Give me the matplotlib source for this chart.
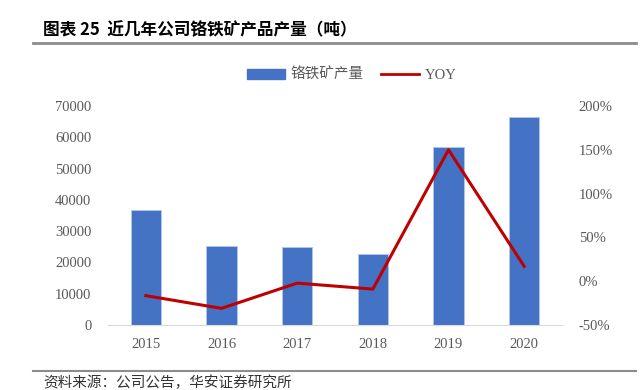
import matplotlib
matplotlib.use("Agg")
import matplotlib.pyplot as plt
from matplotlib.ticker import FuncFormatter
from matplotlib.lines import Line2D

years = ["2015", "2016", "2017", "2018", "2019", "2020"]
output = [36700, 25300, 24800, 22600, 56800, 66500]
yoy = [-16.5, -31.0, -2.2, -9.0, 150.0, 17.0]
left_ticks = [0, 10000, 20000, 30000, 40000, 50000, 60000, 70000]
right_ticks = [-50, 0, 50, 100, 150, 200]

plt.rcParams['font.family'] = ['Noto Sans CJK SC', 'DejaVu Sans']

W, H = 643, 390
fig = plt.figure(figsize=(W / 100, H / 100), dpi=100)

x0, x1 = 108, 562
y0, y1 = 325, 106
ax = fig.add_axes([x0 / W, 1 - y0 / H, (x1 - x0) / W, (y0 - y1) / H])
ax2 = ax.twinx()

xs = list(range(len(years)))
ax.bar(xs, output, width=0.4, color='#4472C4', edgecolor='#b4c7e7', linewidth=0.6, zorder=2)
ax.set_xlim(-0.5, len(years) - 0.5)
ax.set_ylim(0, 70000)
ax.set_yticks(left_ticks)
ax.set_xticks(xs)
ax.set_xticklabels(years)

ax2.plot(xs, yoy, color='#C00000', linewidth=2.2, zorder=3)
ax2.set_ylim(-50, 200)
ax2.set_yticks(right_ticks)
ax2.yaxis.set_major_formatter(FuncFormatter(lambda v, p: f"{int(v)}%"))

serif = ['Liberation Serif', 'DejaVu Serif']
for a in (ax, ax2):
    for s in a.spines.values():
        s.set_visible(False)
    a.tick_params(length=0, colors='#595959', labelsize=10.5)
    for lab in a.get_yticklabels() + a.get_xticklabels():
        lab.set_family(serif)
ax.spines['bottom'].set_visible(True)
ax.spines['bottom'].set_color('#d9d9d9')
ax.tick_params(axis='y', pad=12)
ax.tick_params(axis='x', pad=9)
ax2.tick_params(axis='y', pad=12)

# legend
handles = [plt.Rectangle((0, 0), 1, 1, color='#4472C4'),
           Line2D([0], [0], color='#C00000', linewidth=2)]
leg = fig.legend(handles, ['铬铁矿产量', 'YOY'], loc='center',
                 bbox_to_anchor=(352 / W, 1 - 75 / H), ncol=2, frameon=False,
                 fontsize=10.5, handlelength=2.6, handleheight=0.6, columnspacing=1.2,
                 handletextpad=0.4)
for t in leg.get_texts():
    t.set_color('#595959')
leg.get_texts()[1].set_family(serif)

# title
fig.text(43 / W, 1 - 30 / H, '图表 25  近几年公司铬铁矿产品产量（吨）', fontsize=12,
         fontweight='bold', va='center', ha='left', color='#000000')
fig.add_artist(Line2D([33 / W, 636 / W], [1 - 43 / H, 1 - 43 / H], color='#8c8c8c', linewidth=2))
fig.add_artist(Line2D([33 / W, 636 / W], [1 - 371 / H, 1 - 371 / H], color='#8c8c8c', linewidth=1.5))
fig.text(43 / W, 1 - 383 / H, '资料来源：公司公告，华安证券研究所', fontsize=10.5,
         va='center', ha='left', color='#333333')

fig.savefig('out.png', dpi=100)
